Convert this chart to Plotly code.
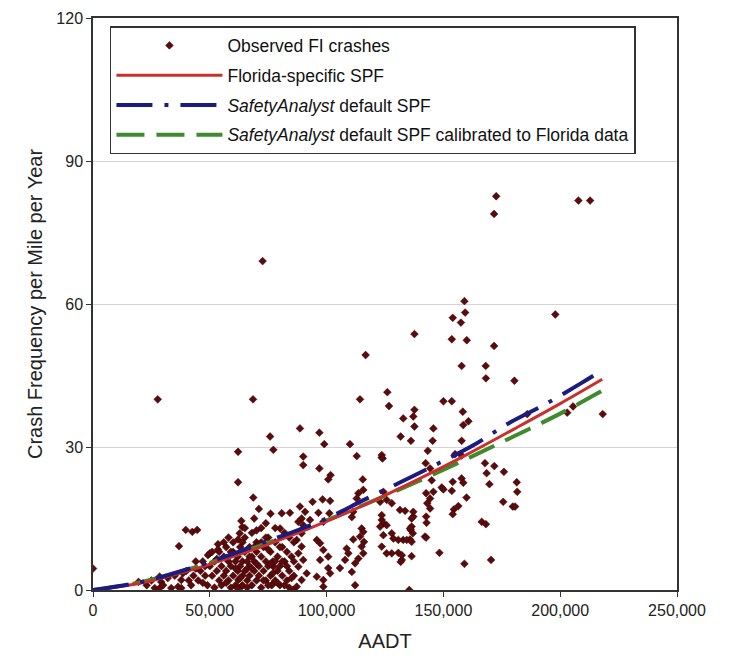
import plotly.graph_objects as go

# ---------------- data ----------------
# Observed FI crashes (AADT, crashes per mile per year)
obs_high = [
    (0, 4.5), (27700, 40), (68500, 40), (72600, 69), (172600, 82.6), (171700, 78.9),
    (207800, 81.7), (212800, 81.7), (137600, 53.7), (116700, 49.3), (114300, 40),
    (126000, 41.5), (126700, 38.6), (75800, 32.2), (88600, 33.9), (96900, 33),
    (132800, 36), (137600, 37.8), (137100, 36.4), (137600, 34.3), (145700, 33.9),
    (131700, 32.2), (136100, 31.3), (145400, 31.3), (99000, 30.6), (110000, 30.6),
    (159000, 60.6), (159300, 58.2), (154000, 57.1), (157500, 56.1), (153600, 52.6),
    (160000, 52.4), (171700, 51.2), (197900, 57.8), (157800, 47), (168100, 47),
    (168200, 44.4), (180400, 43.9), (150000, 39.6), (153600, 39.6), (158300, 37.4),
    (160700, 35.4), (158500, 34.6), (157800, 31.3), (185900, 36.9), (203000, 37.2),
    (218200, 36.9), (205500, 38.5),
]
obs_right = [
    (143300, 29.2), (155000, 28.5), (157800, 28.2), (123600, 27.8), (142400, 26.6),
    (144300, 25.5), (145000, 23), (167800, 26.6), (171800, 26), (175900, 24.8),
    (168500, 24.5), (169700, 22.2), (181400, 22.6), (181600, 20.6), (175600, 18.5),
    (179700, 17.5), (180700, 17.5), (166400, 14.3), (168200, 13.8), (170400, 6.3),
    (159000, 5.5), (135400, 0), (148300, 7.8), (159900, 19.4), (154500, 16.9),
    (156400, 17.6), (154000, 15.9), (149300, 21.5), (150000, 21.1), (154000, 22.7),
    (157800, 23.4), (158500, 22.5), (142600, 20.3), (144300, 19.2), (143100, 18.2),
    (144300, 17.1), (142600, 15.4), (142800, 14.1), (142100, 11.2), (137100, 16.4),
    (137100, 15.4), (136400, 13.3), (136000, 12.6), (136900, 11.9), (153600, 20.8),
    (145700, 20.6), (131400, 16.8), (133600, 16.6), (136400, 15), (135700, 12.9),
    (135700, 10.6), (132800, 10.5), (130700, 10.5), (127900, 11.9), (142600, 11),
    (127900, 7.7), (130700, 7.8), (132200, 6.3), (136400, 7.1), (123600, 14.7),
    (128600, 10.8), (134300, 10.5), (136400, 10.1), (132200, 7.3), (131700, 5.9),
    (127900, 18.2),
]
obs_mid = [
    (123600, 28.3), (124000, 27.6), (115500, 23.2), (115700, 21), (113600, 20.3),
    (112900, 19.2), (124300, 20.6), (122900, 18.5), (125700, 18.9), (111400, 16.4),
    (110800, 15.3), (123600, 15.7), (124300, 14), (125700, 13.6), (122900, 13.3),
    (115000, 12.9), (115700, 12.2), (114300, 11.2), (116000, 10.1), (115000, 9.1),
    (115700, 7.7), (113600, 6.6), (112200, 5.6), (124300, 11.5), (123600, 9.1),
    (125700, 7.7), (108600, 8.7), (109300, 7.7), (107900, 6.3), (105700, 4.6),
    (110800, 3.8), (112200, 1), (112900, 28.1), (111400, 10.6),
    (77200, 29.4), (90000, 28), (90000, 26.2), (96900, 25.5), (101700, 24.1),
    (100700, 23.2), (62100, 22.6), (68600, 19.4), (94000, 18.5), (98300, 19),
    (101500, 18.7), (88600, 17.5), (90800, 16.4), (80800, 16.1), (96500, 16.2),
    (89300, 15), (87900, 14.3), (90000, 13.6), (80100, 12.9), (95800, 10.5),
    (97200, 9.8), (98600, 8.4), (100700, 7), (97200, 6.3), (100700, 4.6),
    (101500, 3.5), (87200, 10.5), (89300, 9.1), (87900, 7.7), (90000, 6.3),
    (87900, 4.9), (91500, 3.5), (89300, 2.1), (87200, 0.7), (77200, 4.9),
    (77200, 1.4), (95800, 2.8), (98600, 2.1), (101200, 16.1), (92900, 14.7),
    (98600, 14.3), (89300, 11.9), (84300, 16.2), (63700, 0.8), (62200, 2.1),
    (76500, 1), (85700, 0), (98600, 0.7), (62100, 29),
]
obs_low = [
    (39700, 12.6), (42500, 12.2), (44600, 12.6), (36800, 9.2), (63500, 14.5),
    (63900, 13.2), (62800, 11.9), (62100, 10.6), (53500, 9.6), (53500, 8.5),
    (49200, 7.3), (19500, 1.7), (28500, 2.8), (29200, 1.7), (26400, 0.4),
    (28500, 0.4), (33500, 0.4), (36400, 0.7), (37800, 0.4), (37800, 2.1),
    (38500, 3.5), (50000, 7.7), (23000, 1), (25000, 2), (30000, 1), (32000, 2.5),
    (35000, 3), (41000, 2), (44000, 4.5),
    (45000, 2), (46000, 4), (47000, 6), (48000, 3), (49000, 1), (50000, 5),
    (51000, 3), (52000, 0.5), (52000, 6), (53000, 4), (54000, 2), (55000, 5),
    (55000, 1), (56000, 3), (56000, 7), (57000, 4), (57000, 9), (58000, 2),
    (58000, 6), (59000, 0.5), (59000, 5), (60000, 3), (60000, 8), (61000, 1),
    (61000, 6), (62000, 4), (62000, 7), (63000, 5), (63000, 9), (64000, 3),
    (64000, 1), (64000, 6), (65000, 8), (65000, 4), (65000, 11), (66000, 2),
    (66000, 6), (66000, 0.5), (67000, 5), (67000, 9), (67000, 3), (68000, 7),
    (68000, 1), (68000, 12), (69000, 4), (69000, 6), (70000, 2), (70000, 8),
    (70000, 10), (71000, 5), (71000, 3), (72000, 0.5), (72000, 7), (73000, 4),
    (73000, 9), (74000, 2), (74000, 6), (75000, 11), (75000, 5), (75000, 1),
    (76000, 3), (76000, 8), (77000, 6), (78000, 2), (78000, 10), (79000, 4),
    (79000, 7), (80000, 1), (80000, 5), (81000, 9), (81000, 3), (82000, 6),
    (82000, 12), (83000, 2), (83000, 8), (84000, 4), (84000, 0.5), (85000, 7),
    (86000, 10), (86000, 3), (56000, 10), (58000, 11), (72000, 13), (74000, 14),
    (69000, 15), (76000, 16), (71000, 17), (78000, 13), (60000, 10), (54000, 8),
    (48000, 5), (43000, 3), (42000, 1), (40000, 4), (44000, 6), (47000, 1.5),
    (51000, 8), (53000, 6.5), (57000, 1.5), (61000, 4.5), (63000, 2.5),
    (66000, 4.5), (67000, 7), (69000, 9), (70000, 5.5), (72000, 10), (73000, 2),
    (74000, 11), (77000, 3.5), (79000, 1.5), (80000, 9), (81000, 6), (83000, 5),
    (84000, 11), (85000, 2.5), (86000, 6), (65000, 13), (70000, 12.5),
    (64000, 10), (59000, 8), (62000, 0.3), (68000, 4.5), (75000, 8.5),
    (78000, 6), (82000, 1), (71000, 9.5), (76000, 5.5),
]

# SPF curves
florida_aadt = [0, 20000, 40000, 60000, 80000, 100000, 120000, 140000, 160000, 180000, 200000, 218000]
florida_spf = [0, 1.4, 3.9, 7.0, 10.5, 14.4, 18.7, 23.4, 28.4, 33.7, 39.1, 44.2]

sa_aadt = [0, 20000, 40000, 60000, 72000, 84000, 100000, 116000, 132000, 148000, 163000, 178000, 193000, 209000, 216000]
sa_spf = [0, 1.6, 4.3, 7.6, 9.8, 11.9, 15.0, 18.9, 22.7, 26.6, 30.4, 35.0, 38.8, 43.4, 45.5]

cal_aadt = [0, 20000, 40000, 60000, 80000, 100000, 120000, 140000, 160000, 180000, 200000, 218000]
cal_spf = [0, 1.6, 4.2, 7.3, 10.8, 14.6, 18.7, 23.0, 27.5, 32.2, 37.0, 41.8]

x_ticks = [0, 50000, 100000, 150000, 200000, 250000]
y_ticks = [0, 30, 60, 90, 120]

# ---------------- figure ----------------
obs = obs_high + obs_right + obs_mid + obs_low
obs_x = [p[0] for p in obs]
obs_y = [p[1] for p in obs]

FONT = "Arial, Liberation Sans, sans-serif"

fig = go.Figure()
fig.add_trace(go.Scatter(
    x=obs_x, y=obs_y, mode="markers", name="Observed FI crashes",
    marker=dict(symbol="diamond", size=6, color="#5e0a0a",
                line=dict(width=0.5, color="#2a0505")),
    legendrank=1, legendgroup="a",
))
fig.add_trace(go.Scatter(
    x=cal_aadt, y=cal_spf, mode="lines",
    name="<i>SafetyAnalyst</i> default SPF calibrated to Florida data",
    line=dict(color="#3f8a2c", width=4, dash="28px,12px", shape="spline"),
    legendrank=4, legendgroup="d",
))
fig.add_trace(go.Scatter(
    x=florida_aadt, y=florida_spf, mode="lines", name="Florida-specific SPF",
    line=dict(color="#c9302c", width=3, shape="spline"),
    legendrank=2, legendgroup="b",
))
fig.add_trace(go.Scatter(
    x=sa_aadt, y=sa_spf, mode="lines", name="<i>SafetyAnalyst</i> default SPF",
    line=dict(color="#1c1c80", width=4, dash="36px,12px,4px,12px", shape="spline"),
    legendrank=3, legendgroup="c",
))

fig.update_layout(
    width=731, height=669,
    margin=dict(l=93, r=54, t=18, b=79, autoexpand=False),
    paper_bgcolor="white", plot_bgcolor="white",
    font=dict(family=FONT, color="#222"),
    showlegend=True,
    legend=dict(
        x=0.029, y=0.986, xanchor="left", yanchor="top",
        bgcolor="white", bordercolor="#333", borderwidth=1.5,
        font=dict(size=17.5, family=FONT, color="#111"),
        itemwidth=106, traceorder="grouped", tracegroupgap=4,
    ),
    xaxis=dict(
        range=[0, 250000], tickvals=x_ticks, tickformat=",d",
        showgrid=False, zeroline=False, automargin=False,
        showline=True, linecolor="#333", linewidth=1.5, mirror=True,
        ticks="outside", ticklen=5, tickcolor="#333",
        tickfont=dict(size=16, family=FONT, color="#222"),
        title=dict(text="AADT", font=dict(size=20, family=FONT, color="#222"), standoff=16),
    ),
    yaxis=dict(
        range=[0, 120], tickvals=y_ticks, automargin=False,
        showgrid=True, gridcolor="#d4d4d4", gridwidth=1, zeroline=False,
        showline=True, linecolor="#333", linewidth=1.5, mirror=True,
        ticks="outside", ticklen=5, tickcolor="#333",
        tickfont=dict(size=16, family=FONT, color="#222"),
        title=dict(text="Crash Frequency per Mile per Year",
                   font=dict(size=20, family=FONT, color="#222"), standoff=8),
    ),
)

fig.write_html("out.html", config={"displayModeBar": False},
               post_script="document.body.style.margin='0';")
